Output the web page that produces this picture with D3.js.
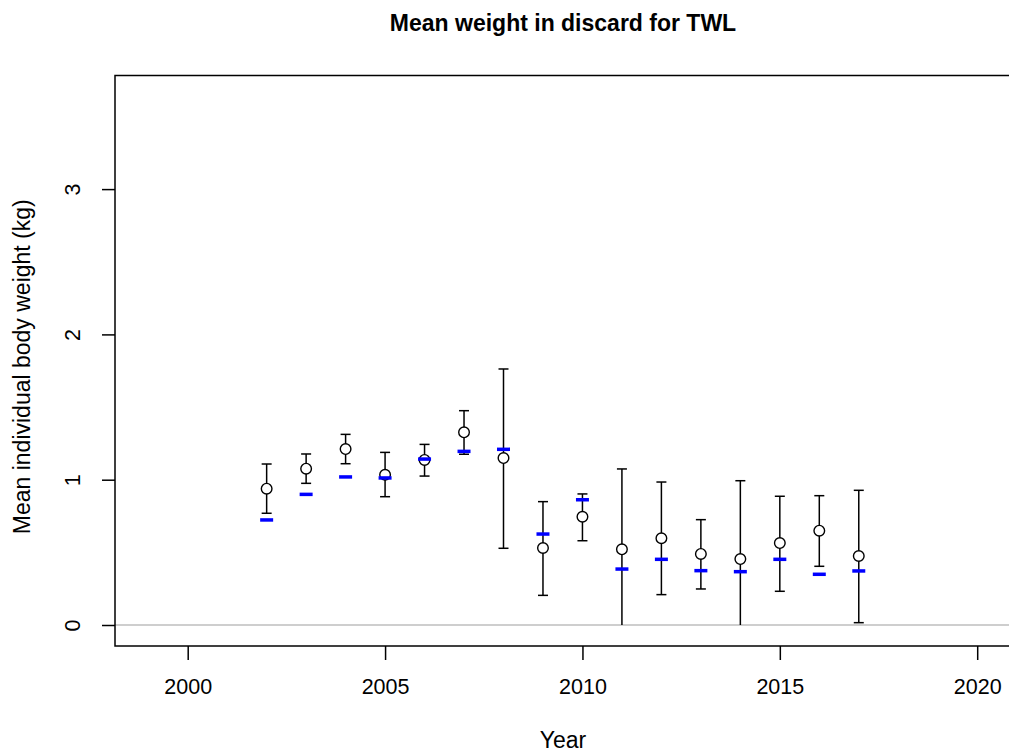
<!DOCTYPE html>
<html>
<head>
<meta charset="utf-8">
<script src="https://cdn.jsdelivr.net/npm/d3@7"></script>
<style>
  html, body { margin: 0; padding: 0; background: #fff; }
  svg { display: block; }
</style>
</head>
<body>
<div id="chart"></div>
<script>
// Data
const years    = [2002, 2003, 2004, 2005, 2006, 2007, 2008, 2009, 2010, 2011, 2012, 2013, 2014, 2015, 2016, 2017]
const observed = [0.938, 1.076, 1.211, 1.034, 1.136, 1.326, 1.149, 0.530, 0.745, 0.521, 0.597, 0.489, 0.454, 0.564, 0.649, 0.475]
const upper    = [1.108, 1.177, 1.312, 1.188, 1.243, 1.475, 1.762, 0.849, 0.902, 1.074, 0.984, 0.725, 0.993, 0.886, 0.890, 0.927]
const lower    = [0.769, 0.975, 1.110, 0.883, 1.025, 1.175, 0.528, 0.204, 0.580, 0.000, 0.209, 0.248, 0.000, 0.232, 0.404, 0.016]
const expected = [0.723, 0.899, 1.019, 1.012, 1.142, 1.195, 1.209, 0.626, 0.862, 0.385, 0.452, 0.374, 0.367, 0.452, 0.349, 0.372]
const xTicks = [2000, 2005, 2010, 2015, 2020]
const yTicks = [0, 1, 2, 3]

const W = 1009, H = 756
const box = { left: 115, right: 1011, top: 75.5, bottom: 646 }
const FONT = 'Liberation Sans, Arial, sans-serif'

const x = d3.scaleLinear().domain([2000, 2020]).range([187.7, 977.2])
const y = d3.scaleLinear().domain([0, 3]).range([625, 189.1])

const svg = d3.select('#chart').append('svg')
  .attr('width', W).attr('height', H)

// zero reference line
svg.append('line')
  .attr('x1', box.left).attr('x2', box.right)
  .attr('y1', y(0)).attr('y2', y(0))
  .attr('stroke', '#bebebe').attr('stroke-width', 1.5)

// error bars
const bars = svg.append('g')
years.forEach((yr, i) => {
  bars.append('line')
    .attr('x1', x(yr)).attr('x2', x(yr))
    .attr('y1', y(lower[i])).attr('y2', y(upper[i]))
    .attr('stroke', '#000').attr('stroke-width', 1.5)
  bars.append('line')
    .attr('x1', x(yr) - 5).attr('x2', x(yr) + 5)
    .attr('y1', y(upper[i])).attr('y2', y(upper[i]))
    .attr('stroke', '#000').attr('stroke-width', 1.5)
  if (lower[i] > 0) {
    bars.append('line')
      .attr('x1', x(yr) - 5).attr('x2', x(yr) + 5)
      .attr('y1', y(lower[i])).attr('y2', y(lower[i]))
      .attr('stroke', '#000').attr('stroke-width', 1.5)
  }
})

// observed points
svg.append('g').selectAll('circle')
  .data(years)
  .join('circle')
  .attr('cx', d => x(d))
  .attr('cy', (d, i) => y(observed[i]))
  .attr('r', 5.3)
  .attr('fill', '#fff')
  .attr('stroke', '#000')
  .attr('stroke-width', 1.4)

// expected (blue dashes)
svg.append('g').selectAll('line')
  .data(years)
  .join('line')
  .attr('x1', d => x(d) - 6.5).attr('x2', d => x(d) + 6.5)
  .attr('y1', (d, i) => y(expected[i])).attr('y2', (d, i) => y(expected[i]))
  .attr('stroke', '#0000ff').attr('stroke-width', 3.5)

// plot box
svg.append('rect')
  .attr('x', box.left).attr('y', box.top)
  .attr('width', box.right - box.left).attr('height', box.bottom - box.top)
  .attr('fill', 'none').attr('stroke', '#000').attr('stroke-width', 1.5)

// x axis
const xAxis = svg.append('g')
  .attr('transform', `translate(0,${box.bottom})`)
  .call(d3.axisBottom(x).tickValues(xTicks).tickFormat(d3.format('d')).tickSize(14))
xAxis.select('.domain').remove()
xAxis.selectAll('.tick line').attr('stroke-width', 1.5)
xAxis.selectAll('.tick text')
  .attr('y', 48).attr('dy', null)
  .style('font-family', FONT).style('font-size', '21.5px').attr('fill', '#000')

// y axis (rotated labels like R)
const yAxis = svg.append('g')
  .attr('transform', `translate(${box.left},0)`)
  .call(d3.axisLeft(y).tickValues(yTicks).tickSize(13).tickFormat(d3.format('d')))
yAxis.select('.domain').remove()
yAxis.selectAll('.tick line').attr('stroke-width', 1.5)
yAxis.selectAll('.tick text')
  .attr('x', null).attr('dy', null)
  .attr('transform', 'translate(-35,0) rotate(-90)')
  .attr('text-anchor', 'middle')
  .style('font-family', FONT).style('font-size', '21.5px').attr('fill', '#000')

// titles
svg.append('text')
  .attr('x', (box.left + box.right) / 2).attr('y', 31)
  .attr('text-anchor', 'middle')
  .style('font-family', FONT).style('font-size', '23px').style('font-weight', 'bold')
  .text('Mean weight in discard for TWL')

svg.append('text')
  .attr('x', (box.left + box.right) / 2).attr('y', 748)
  .attr('text-anchor', 'middle')
  .style('font-family', FONT).style('font-size', '23px')
  .text('Year')

svg.append('text')
  .attr('transform', `translate(30,${(box.top + box.bottom) / 2 + 6}) rotate(-90)`)
  .attr('text-anchor', 'middle')
  .style('font-family', FONT).style('font-size', '23px')
  .text('Mean individual body weight (kg)')
</script>
</body>
</html>
